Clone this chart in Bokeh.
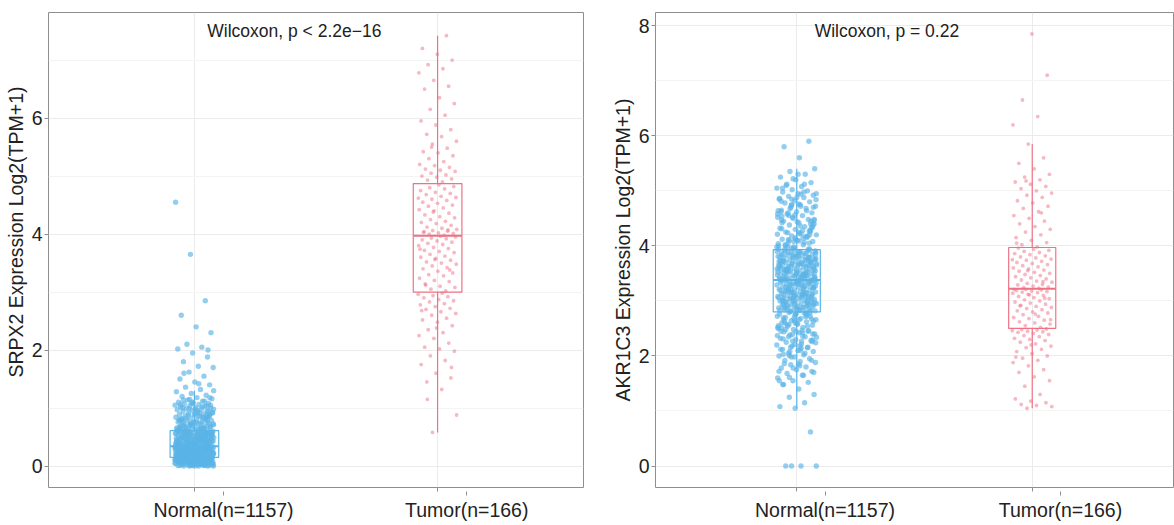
import numpy as np
from bokeh.plotting import figure
from bokeh.layouts import row
from bokeh.models import Range1d, FixedTicker, Label, LinearAxis, Title
from bokeh.embed import file_html
from bokeh.resources import INLINE

# ---------------- data ----------------
group_labels = ["Normal(n=1157)", "Tumor(n=166)"]

srpx2_title = "Wilcoxon, p < 2.2e\u221216"
srpx2_ylabel = "SRPX2 Expression Log2(TPM+1)"
srpx2_normal = [
    0.00, 0.00, 0.00, 0.00, 0.00, 0.01, 0.01, 0.02, 0.02, 0.03, 0.03, 0.03, 0.04, 0.04, 0.05, 0.05, 0.05, 0.06, 0.06, 0.06,
    0.07, 0.07, 0.07, 0.08, 0.08, 0.08, 0.08, 0.09, 0.09, 0.09, 0.10, 0.10, 0.10, 0.10, 0.11, 0.11, 0.11, 0.11, 0.12, 0.12,
    0.12, 0.12, 0.13, 0.13, 0.13, 0.13, 0.14, 0.14, 0.14, 0.14, 0.15, 0.15, 0.00, 0.01, 0.02, 0.04, 0.05, 0.06, 0.07, 0.09,
    0.10, 0.11, 0.12, 0.13, 0.14, 0.03, 0.08, 0.02, 0.06, 0.10, 0.12, 0.14, 0.01, 0.05, 0.09,
    0.16, 0.16, 0.17, 0.17, 0.18, 0.18, 0.18, 0.19, 0.19, 0.20, 0.20, 0.20, 0.21, 0.21, 0.21, 0.22, 0.22, 0.22, 0.23, 0.23,
    0.23, 0.24, 0.24, 0.24, 0.25, 0.25, 0.25, 0.26, 0.26, 0.26, 0.27, 0.27, 0.27, 0.28, 0.28, 0.28, 0.29, 0.29, 0.29, 0.30,
    0.30, 0.30, 0.31, 0.31, 0.31, 0.32, 0.32, 0.32, 0.33, 0.33, 0.33, 0.34, 0.34, 0.16, 0.18, 0.20, 0.22, 0.24, 0.26, 0.28,
    0.30, 0.32, 0.17, 0.19, 0.21, 0.23, 0.25, 0.27, 0.29, 0.31, 0.33, 0.20, 0.25, 0.30, 0.22,
    0.35, 0.35, 0.36, 0.36, 0.37, 0.37, 0.38, 0.38, 0.39, 0.39, 0.40, 0.40, 0.41, 0.41, 0.42, 0.42, 0.43, 0.43, 0.44, 0.44,
    0.45, 0.45, 0.46, 0.46, 0.47, 0.47, 0.48, 0.48, 0.49, 0.49, 0.50, 0.50, 0.51, 0.51, 0.52, 0.52, 0.53, 0.53, 0.54, 0.54,
    0.55, 0.55, 0.56, 0.56, 0.57, 0.57, 0.58, 0.58, 0.59, 0.59, 0.60, 0.60, 0.61, 0.36, 0.38, 0.40, 0.42, 0.44, 0.46, 0.48,
    0.50, 0.52, 0.54, 0.56, 0.58, 0.60, 0.37, 0.41, 0.45, 0.49, 0.53, 0.57, 0.39, 0.47, 0.55,
    0.62, 0.63, 0.64, 0.65, 0.66, 0.67, 0.68, 0.69, 0.70, 0.71, 0.72, 0.73, 0.74, 0.75, 0.76, 0.77, 0.78, 0.79, 0.80, 0.81,
    0.82, 0.83, 0.84, 0.85, 0.86, 0.87, 0.88, 0.89, 0.90, 0.91, 0.92, 0.93, 0.94, 0.95, 0.96, 0.97, 0.98, 0.99, 1.00, 1.01,
    1.02, 1.03, 1.04, 1.05, 1.06, 1.07, 1.08, 1.09, 1.10, 1.12, 1.14, 1.16, 1.18, 1.20, 1.22, 1.25, 1.28, 1.32, 1.36, 1.40,
    1.45, 1.50, 1.55, 1.62, 1.70, 1.72, 1.80, 1.88, 1.95, 2.02, 2.05, 2.10, 2.30, 2.40, 2.60, 2.85, 3.65, 4.55, 0.64, 0.68,
    0.72, 0.76, 0.80, 0.84, 0.88, 0.92, 0.96, 1.00, 1.04, 1.08, 0.66, 0.74, 0.82, 0.90, 0.98, 1.06, 1.12, 1.15, 1.30, 1.42,
    1.60, 2.00,
    0.03, 0.27, 0.44, 0.12, 0.58, 0.19, 0.08, 0.36, 0.71, 0.22, 0.05, 0.49, 0.31, 0.14, 0.63, 0.26, 0.40, 0.02, 0.53, 0.17,
    0.85, 0.34, 0.10, 0.46, 0.24, 0.68, 0.07, 0.38, 0.15, 0.56, 0.29, 0.92, 0.11, 0.43, 0.20, 0.61, 0.04, 0.33, 0.50, 0.16,
    0.77, 0.28, 0.09, 0.41, 0.23, 0.55, 0.13, 0.37, 0.66, 0.01, 0.47, 0.21, 0.30, 0.59, 0.06, 0.42, 0.18, 1.02, 0.35, 0.52,
    0.25, 0.12, 0.45, 0.74, 0.19, 0.32, 0.08, 0.57, 0.27, 0.39, 0.14, 0.64, 0.23, 0.48, 0.03, 0.88, 0.31, 0.16, 0.54, 0.21,
    0.41, 0.10, 0.69, 0.26, 0.36, 0.05, 0.51, 0.18, 0.95, 0.29, 0.44, 0.13, 0.60, 0.24, 0.34, 0.07, 0.79, 0.20, 0.48, 0.15,
    0.38, 0.57, 0.11, 0.30, 0.65, 0.22, 0.43, 0.02, 0.52, 0.17, 1.10, 0.33, 0.26, 0.46, 0.09, 0.62, 0.19, 0.37, 0.72, 0.12,
    0.28, 0.50, 0.06, 0.40, 0.23, 0.83, 0.32, 0.14, 0.55, 0.21, 0.45, 0.04, 0.35, 0.67, 0.18, 0.27, 0.49, 0.10, 0.58, 0.24,
    0.98, 0.31, 0.16, 0.42, 0.08, 0.61, 0.29, 0.39, 0.13, 0.75, 0.22, 0.53, 0.01, 0.34, 0.47, 0.19, 0.86, 0.25, 0.11, 0.56,
    0.36, 0.20, 0.44, 0.07, 0.64, 0.30, 0.15, 0.51, 0.26, 1.05, 0.40, 0.12, 0.59, 0.23, 0.33, 0.05, 0.70, 0.28, 0.46, 0.17,
    0.38, 0.09, 0.54, 0.21, 0.81, 0.32, 0.14, 0.43, 0.27, 0.60, 1.18, 0.90, 0.78, 0.66, 0.99, 0.73, 0.87, 1.14, 0.80, 0.69,
]
srpx2_tumor = [
    0.58, 0.88, 1.32, 1.45, 1.52, 1.60, 1.75, 1.82, 1.90, 1.98, 2.02, 2.05, 2.12, 2.20, 2.25, 2.30, 2.35, 2.42, 2.48, 2.52,
    2.55, 2.60, 2.63, 2.66, 2.70, 2.72, 2.75, 2.78, 2.80, 2.83, 2.85, 2.87, 2.90, 2.92, 2.94, 2.96, 2.98, 1.15, 1.70, 2.38,
    2.68,
    3.02, 3.05, 3.08, 3.10, 3.14, 3.18, 3.20, 3.24, 3.28, 3.30, 3.33, 3.36, 3.40, 3.42, 3.45, 3.48, 3.50, 3.52, 3.55, 3.58,
    3.60, 3.62, 3.65, 3.68, 3.70, 3.72, 3.75, 3.77, 3.80, 3.82, 3.84, 3.86, 3.88, 3.90, 3.92, 3.93, 3.95, 3.96, 3.12, 3.38,
    3.56, 3.74,
    3.98, 4.00, 4.01, 4.02, 4.03, 4.05, 4.06, 4.08, 4.10, 4.12, 4.15, 4.18, 4.20, 4.22, 4.25, 4.28, 4.30, 4.33, 4.36, 4.40,
    4.42, 4.45, 4.48, 4.50, 4.53, 4.55, 4.58, 4.60, 4.63, 4.65, 4.68, 4.70, 4.72, 4.75, 4.78, 4.80, 4.82, 4.85, 4.04, 4.07,
    4.38, 4.62,
    4.90, 4.93, 4.95, 4.98, 5.00, 5.02, 5.05, 5.08, 5.10, 5.12, 5.15, 5.18, 5.20, 5.25, 5.30, 5.35, 5.40, 5.42, 5.48, 5.55,
    5.60, 5.68, 5.72, 5.80, 5.88, 5.95, 6.05, 6.15, 6.25, 6.35, 6.50, 6.55, 6.65, 6.78, 6.85, 6.92, 7.00, 7.10, 7.20, 7.42,
    5.50,
]
# box statistics: [Normal, Tumor]
srpx2_q1 = [0.15, 3.00]
srpx2_median = [0.34, 3.97]
srpx2_q3 = [0.61, 4.87]
srpx2_whisker_lo = [0.00, 0.58]
srpx2_whisker_hi = [1.30, 7.42]
srpx2_yticks = [0, 2, 4, 6]
srpx2_yminor = [1, 3, 5, 7]

akr1c3_title = "Wilcoxon, p = 0.22"
akr1c3_ylabel = "AKR1C3 Expression Log2(TPM+1)"
akr1c3_normal = [
    0.00, 0.00, 0.00, 0.00, 0.62, 1.05, 1.08, 1.15, 1.25, 1.30, 1.40, 1.48, 1.52, 1.55, 1.60, 1.65, 1.68, 1.72, 1.75, 1.78,
    1.80, 1.84, 1.88, 1.90, 1.92, 1.95, 1.98, 2.00, 2.02, 2.05, 2.08, 2.10, 2.12, 2.15, 2.18, 2.20, 2.22, 2.25, 2.28, 2.30,
    2.32, 2.35, 2.38, 2.40, 2.42, 2.44, 2.46, 2.48, 2.50, 2.52, 2.54, 2.56, 2.58, 2.60, 2.62, 2.64, 2.66, 2.68, 2.70, 2.72,
    2.74, 2.76, 2.78, 2.79, 1.70, 1.85, 2.03, 2.16, 2.27, 2.37, 2.47, 2.57, 2.67, 2.77, 2.45,
    2.80, 2.81, 2.82, 2.83, 2.84, 2.85, 2.86, 2.87, 2.88, 2.89, 2.90, 2.91, 2.92, 2.93, 2.94, 2.95, 2.96, 2.97, 2.98, 2.99,
    3.00, 3.01, 3.02, 3.03, 3.04, 3.05, 3.06, 3.07, 3.08, 3.09, 3.10, 3.11, 3.12, 3.13, 3.14, 3.15, 3.16, 3.17, 3.18, 3.19,
    3.20, 3.21, 3.22, 3.23, 3.24, 3.25, 3.26, 3.27, 3.28, 3.29, 3.30, 3.31, 3.32, 3.33, 3.34, 3.35, 3.36, 3.37, 2.83, 2.88,
    2.94, 3.00, 3.06, 3.12, 3.18, 3.24, 3.30, 3.36, 2.97, 3.15, 3.33, 3.38, 3.38, 3.37, 3.09,
    3.39, 3.40, 3.41, 3.42, 3.43, 3.44, 3.45, 3.46, 3.47, 3.48, 3.49, 3.50, 3.51, 3.52, 3.53, 3.54, 3.55, 3.56, 3.57, 3.58,
    3.59, 3.60, 3.61, 3.62, 3.63, 3.64, 3.65, 3.66, 3.67, 3.68, 3.69, 3.70, 3.71, 3.72, 3.73, 3.74, 3.75, 3.76, 3.77, 3.78,
    3.79, 3.80, 3.81, 3.82, 3.83, 3.84, 3.85, 3.86, 3.87, 3.88, 3.89, 3.90, 3.91, 3.92, 3.93, 3.42, 3.48, 3.54, 3.60, 3.66,
    3.72, 3.78, 3.84, 3.90, 3.45, 3.57, 3.69, 3.81, 3.39, 3.51, 3.63, 3.75, 3.87, 3.93,
    3.95, 3.98, 4.00, 4.02, 4.05, 4.08, 4.10, 4.12, 4.15, 4.18, 4.20, 4.22, 4.25, 4.28, 4.30, 4.32, 4.35, 4.38, 4.40, 4.42,
    4.45, 4.48, 4.50, 4.52, 4.55, 4.58, 4.60, 4.62, 4.65, 4.68, 4.70, 4.72, 4.75, 4.78, 4.80, 4.82, 4.85, 4.88, 4.90, 4.92,
    4.95, 4.98, 5.00, 5.02, 5.05, 5.08, 5.10, 5.15, 5.20, 5.25, 5.30, 5.35, 5.40, 5.60, 5.80, 5.90, 3.96, 4.04, 4.14, 4.24,
    4.34, 4.44, 4.54, 4.64, 4.74, 4.84, 4.94, 4.00, 4.26, 4.56, 4.86, 5.12, 4.10, 4.46, 4.76,
    3.12, 2.45, 3.78, 4.21, 2.88, 3.55, 1.92, 3.34, 4.62, 2.71, 3.05, 3.91, 2.18, 3.47, 4.05, 2.95, 3.66, 1.65, 3.22, 4.38,
    2.58, 3.84, 3.01, 4.75, 2.34, 3.42, 3.18, 2.82, 4.12, 3.61, 2.05, 3.29, 4.48, 2.66, 3.73, 3.08, 1.78, 3.52, 4.28, 2.92,
    3.38, 4.88, 2.51, 3.15, 3.96, 2.24, 3.69, 4.02, 2.78, 3.44, 1.55, 3.26, 4.55, 2.63, 3.81, 3.03, 4.18, 2.39, 3.58, 3.11,
    2.86, 4.33, 3.48, 2.12, 3.75, 4.68, 2.97, 3.36, 1.86, 3.64, 4.08, 2.55, 3.21, 3.88, 2.29, 3.51, 4.42, 2.74, 3.31, 4.95,
    3.06, 2.48, 3.71, 4.15, 2.83, 3.45, 2.01, 3.57, 4.25, 2.69, 3.93, 3.16, 4.58, 2.42, 3.39, 3.02, 2.89, 4.81, 3.62, 2.16,
    3.27, 4.36, 2.61, 3.79, 3.09, 1.72, 3.49, 4.11, 2.93, 3.33, 5.05, 2.54, 3.68, 3.98, 2.27, 3.54, 4.45, 2.76, 3.19, 3.86,
    2.08, 3.41, 4.22, 2.65, 3.74, 3.04, 4.64, 2.36, 3.59, 3.13, 2.85, 4.31, 3.46, 1.98, 3.77, 4.72, 2.99, 3.35, 2.21, 3.63,
    4.06, 2.57, 3.24, 3.89, 2.31, 3.53, 4.52, 2.72, 3.28, 5.12, 3.07, 2.44, 3.70, 4.17, 2.81, 3.43, 1.82, 3.56, 4.27, 2.68,
    3.94, 3.14, 4.60, 2.40, 3.37, 3.00, 2.90, 4.85, 3.65, 2.14, 3.25, 4.40, 2.60, 3.80, 3.10, 1.61, 3.50, 4.09, 2.94, 3.32,
    5.22, 2.52, 3.67, 3.99, 2.26, 3.55, 4.47, 2.77, 3.20, 3.85, 2.10, 3.40, 4.20, 2.64, 3.72, 4.98, 2.35, 4.70, 5.30, 1.48,
]
akr1c3_tumor = [
    1.05, 1.08, 1.10, 1.12, 1.15, 1.18, 1.22, 1.30, 1.45, 1.55, 1.62, 1.70, 1.75, 1.82, 1.88, 1.92, 1.96, 2.00, 2.04, 2.08,
    2.12, 2.15, 2.18, 2.22, 2.25, 2.28, 2.30, 2.32, 2.35, 2.37, 2.39, 2.41, 2.43, 2.44, 2.45, 2.46, 2.47, 2.48, 2.49, 2.20,
    1.98,
    2.52, 2.55, 2.58, 2.60, 2.62, 2.65, 2.68, 2.70, 2.72, 2.75, 2.78, 2.80, 2.82, 2.84, 2.86, 2.88, 2.90, 2.92, 2.94, 2.96,
    2.98, 3.00, 3.02, 3.04, 3.06, 3.08, 3.10, 3.12, 3.14, 3.15, 3.16, 3.17, 3.18, 3.19, 3.20, 3.21, 2.66, 2.76, 2.91, 3.05,
    3.11, 3.21,
    3.23, 3.24, 3.25, 3.27, 3.29, 3.30, 3.32, 3.34, 3.36, 3.38, 3.40, 3.42, 3.44, 3.46, 3.48, 3.50, 3.52, 3.54, 3.56, 3.58,
    3.60, 3.62, 3.64, 3.66, 3.68, 3.70, 3.72, 3.74, 3.76, 3.78, 3.80, 3.82, 3.84, 3.86, 3.88, 3.90, 3.92, 3.94, 3.96, 3.35,
    3.55, 3.75,
    3.98, 4.02, 4.06, 4.10, 4.15, 4.20, 4.25, 4.30, 4.35, 4.40, 4.45, 4.50, 4.55, 4.62, 4.68, 4.72, 4.78, 4.82, 4.88, 4.92,
    4.96, 5.00, 5.04, 5.08, 5.12, 5.16, 5.20, 5.25, 5.30, 5.40, 5.50, 5.60, 5.85, 6.20, 6.35, 6.65, 7.10, 7.85, 4.05, 4.60,
    5.18,
]
akr1c3_q1 = [2.80, 2.50]
akr1c3_median = [3.38, 3.22]
akr1c3_q3 = [3.93, 3.97]
akr1c3_whisker_lo = [1.05, 1.05]
akr1c3_whisker_hi = [5.40, 5.85]
akr1c3_yticks = [0, 2, 4, 6, 8]
akr1c3_yminor = [1, 3, 5, 7]

# ---------------- style ----------------
FONT = "Liberation Sans"
COLORS = ["#5AB4E6", "#EE7284"]
GRID = "#EBEBEB"
MINOR_GRID = "#F4F4F4"
FRAME = "#8E8E8E"
TEXT = "#222222"
LABEL_SHIFT = 0.12   # category labels sit a little right of their ticks


def jitter_x(n, center, half):
    u = (np.arange(n) * 0.6180339887 + 0.37) % 1.0
    return center + (u - 0.5) * 2.0 * half


def panel(title, ylabel, normal, tumor, q1, med, q3, wlo, whi, yr, yticks, yminor,
          width, height, left, right, bottom, title_x, title_y, jit, ylab_align, ylab_offset):
    p = figure(width=width, height=height, output_backend="svg", toolbar_location=None,
               x_range=Range1d(0.4, 2.6), y_range=Range1d(*yr),
               min_border_left=left, min_border_right=right, min_border_top=12,
               min_border_bottom=bottom, background_fill_color="white",
               border_fill_color="white")
    p.outline_line_color = FRAME
    p.outline_line_width = 1

    xs = np.array([1.0, 2.0])
    bw = 0.2
    # whiskers
    p.segment(x0=xs, y0=q3, x1=xs, y1=whi, line_color=COLORS, line_width=1.2)
    p.segment(x0=xs, y0=q1, x1=xs, y1=wlo, line_color=COLORS, line_width=1.2)
    # boxes
    p.vbar(x=xs, width=bw, bottom=q1, top=q3, fill_color="white", fill_alpha=0.0,
           line_color=COLORS, line_width=1.2)
    p.segment(x0=xs - bw / 2, y0=med, x1=xs + bw / 2, y1=med, line_color=COLORS, line_width=2)

    # jittered points
    sizes = [5.4, 3.8]
    alphas = [0.65, 0.5]
    for i, vals in enumerate([normal, tumor]):
        v = np.array(vals, dtype=float)
        p.scatter(jitter_x(len(v), xs[i], jit), v, size=sizes[i], fill_color=COLORS[i],
                  fill_alpha=alphas[i], line_color=None)

    p.add_layout(Label(x=title_x, y=title_y, text=title, text_font=FONT,
                       text_font_size="17.5px", text_color=TEXT,
                       text_align="left", text_baseline="middle"))

    # x axis: tick marks at the categories (labels hidden)
    p.xaxis.ticker = FixedTicker(ticks=[1, 2])
    p.xaxis.major_label_text_font_size = "1px"
    p.xaxis.major_label_text_alpha = 0.0
    p.xaxis.major_label_standoff = 0
    # second x axis carrying the category labels, slightly shifted right
    lab_ticks = [1 + LABEL_SHIFT, 2 + LABEL_SHIFT]
    xlab = LinearAxis(ticker=FixedTicker(ticks=lab_ticks),
                      major_label_overrides={lab_ticks[0]: group_labels[0],
                                             lab_ticks[1]: group_labels[1]})
    xlab.axis_line_color = None
    xlab.major_tick_line_color = None
    xlab.major_tick_out = 0
    xlab.major_tick_in = 0
    xlab.minor_tick_line_color = None
    xlab.major_label_text_font = FONT
    xlab.major_label_text_font_size = "19.5px"
    xlab.major_label_text_color = TEXT
    xlab.major_label_standoff = 3
    p.add_layout(xlab, "below")

    p.yaxis.ticker = FixedTicker(ticks=yticks, minor_ticks=yminor)
    for ax in (p.xaxis, p.yaxis):
        ax.axis_line_color = None
        ax.major_tick_line_color = FRAME
        ax.major_tick_out = 4
        ax.major_tick_in = 0
        ax.minor_tick_line_color = None
    p.yaxis.major_label_text_font = FONT
    p.yaxis.major_label_text_font_size = "19.5px"
    p.yaxis.major_label_text_color = TEXT
    p.yaxis.major_label_standoff = 2

    # y axis title
    p.add_layout(Title(text=ylabel, align=ylab_align, offset=ylab_offset, text_font=FONT,
                       text_font_size="19.5px", text_font_style="normal",
                       text_color=TEXT, standoff=3), "left")

    p.xgrid.grid_line_color = GRID
    p.ygrid.grid_line_color = GRID
    p.ygrid.minor_grid_line_color = MINOR_GRID
    return p


p1 = panel(srpx2_title, srpx2_ylabel, srpx2_normal, srpx2_tumor,
           srpx2_q1, srpx2_median, srpx2_q3, srpx2_whisker_lo, srpx2_whisker_hi,
           (-0.37, 7.82), srpx2_yticks, srpx2_yminor,
           width=587, height=525, left=48, right=4, bottom=32,
           title_x=1.053, title_y=7.50, jit=0.08, ylab_align="left", ylab_offset=110)
p2 = panel(akr1c3_title, akr1c3_ylabel, akr1c3_normal, akr1c3_tumor,
           akr1c3_q1, akr1c3_median, akr1c3_q3, akr1c3_whisker_lo, akr1c3_whisker_hi,
           (-0.39, 8.24), akr1c3_yticks, akr1c3_yminor,
           width=587, height=525, left=68, right=1, bottom=38,
           title_x=1.076, title_y=7.90, jit=0.085, ylab_align="center", ylab_offset=0)

layout = row(p1, p2)
open("out.html", "w").write(file_html(layout, INLINE))
